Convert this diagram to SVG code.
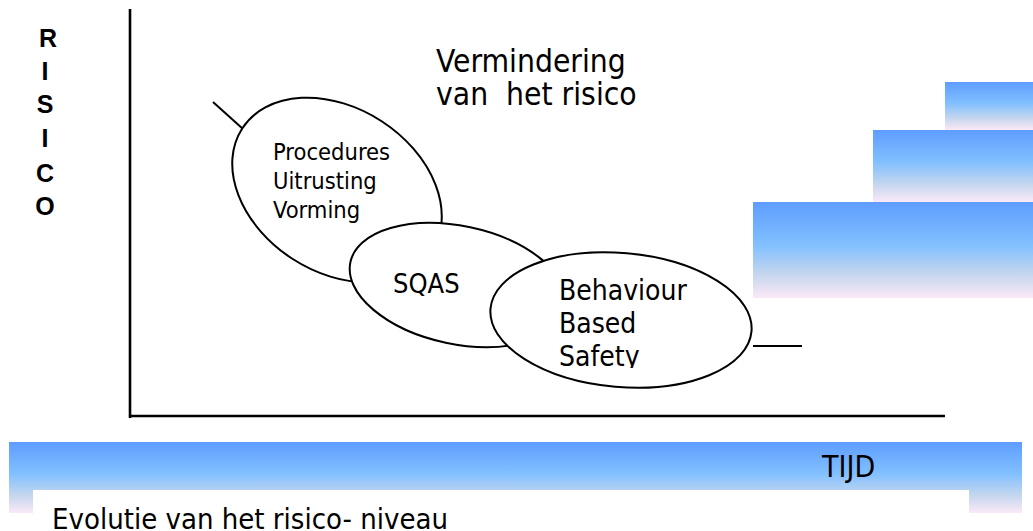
<svg xmlns="http://www.w3.org/2000/svg" width="1033" height="531" viewBox="0 0 1033 531">
<defs>
<linearGradient id="sky" x1="0" y1="0" x2="0" y2="1">
<stop offset="0" stop-color="#5e9dff"/>
<stop offset="0.45" stop-color="#82c0ff"/>
<stop offset="0.75" stop-color="#c4d6ee"/>
<stop offset="1" stop-color="#fbe9f7"/>
</linearGradient>
<clipPath id="clipSafety"><rect x="540" y="250" width="200" height="118"/></clipPath>
</defs>
<style>
.t{font-family:"DejaVu Sans Condensed","DejaVu Sans",sans-serif;fill:#000}
.r{font-family:"Liberation Sans",Arial,sans-serif;font-weight:bold;font-size:25px;text-anchor:middle}
.el{fill:#fff;stroke:#000;stroke-width:2}
.ln{stroke:#000;stroke-width:2;fill:none}
.ax{stroke:#000;stroke-width:2.6;fill:none}
</style>
<rect width="1033" height="531" fill="#fff"/>
<g id="steps">
<rect x="945" y="82" width="88" height="48" fill="url(#sky)"/>
<rect x="873" y="130" width="160" height="72" fill="url(#sky)"/>
<rect x="753" y="202" width="280" height="96" fill="url(#sky)"/>
</g>
<g id="band">
<rect x="9" y="442" width="1013" height="71" fill="url(#sky)"/>
<rect x="33" y="490" width="936" height="41" fill="#fff"/>
<text class="t" x="822" y="477" font-size="30">TIJD</text>
<text class="t" x="52" y="529" font-size="29">Evolutie van het risico- niveau</text>
</g>
<g id="axes">
<line class="ax" x1="130" y1="9" x2="130" y2="418"/>
<line class="ax" x1="129" y1="416" x2="945" y2="416"/>
</g>
<g id="risico">
<text class="r" x="48" y="47">R</text>
<text class="r" x="45" y="80">I</text>
<text class="r" x="45" y="113">S</text>
<text class="r" x="45" y="147">I</text>
<text class="r" x="45" y="182">C</text>
<text class="r" x="45" y="215">O</text>
</g>
<g id="title">
<text class="t" x="436" y="72" font-size="31.5">Vermindering</text>
<text class="t" x="436" y="105" font-size="31.5" xml:space="preserve">van  het risico</text>
</g>
<g id="connectors">
<line class="ln" x1="213" y1="102" x2="243" y2="129"/>
<line class="ln" x1="753" y1="346" x2="802" y2="346"/>
</g>
<g id="node-procedures">
<ellipse class="el" cx="337" cy="190" rx="113" ry="82" transform="rotate(33 337 190)"/>
<text class="t" x="273" y="160" font-size="23.5">Procedures</text>
<text class="t" x="273" y="189" font-size="23.5">Uitrusting</text>
<text class="t" x="273" y="218" font-size="23.5">Vorming</text>
</g>
<g id="node-sqas">
<ellipse class="el" cx="458" cy="285" rx="110" ry="59" transform="rotate(12 458 285)"/>
<text class="t" x="393" y="293" font-size="27">SQAS</text>
</g>
<g id="node-bbs">
<ellipse class="el" cx="621" cy="320" rx="131" ry="67" transform="rotate(5 621 320)"/>
<g clip-path="url(#clipSafety)">
<text class="t" x="559" y="300" font-size="28">Behaviour</text>
<text class="t" x="559" y="333" font-size="28">Based</text>
<text class="t" x="559" y="366" font-size="28">Safety</text>
</g>
</g>
</svg>
